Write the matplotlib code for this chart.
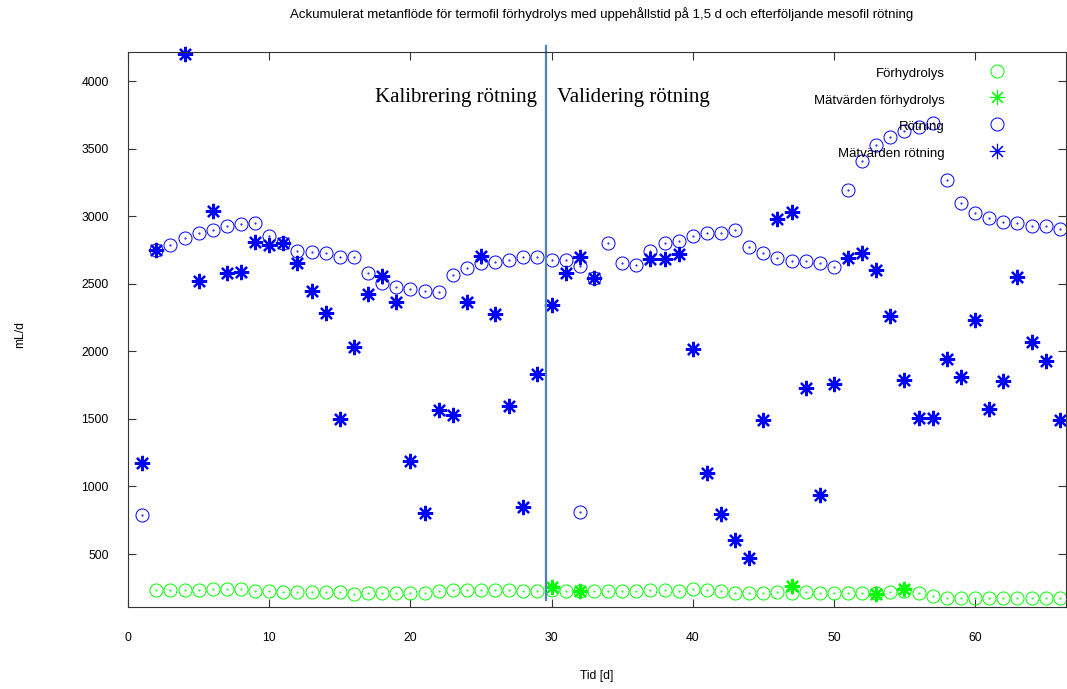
import matplotlib
matplotlib.use("Agg")
import matplotlib.pyplot as plt

plt.rcParams['font.family'] = ['Liberation Sans', 'DejaVu Sans']

# Förhydrolys, modell (dag 2-66)
dag_forhydrolys = list(range(2, 67))
forhydrolys = [234, 234, 234, 234, 239, 239, 239, 227, 227, 219, 219, 219, 222, 222,
               205, 210, 214, 210, 210, 214, 229, 234, 234, 234, 234, 234, 229, 229,
               234, 229, 229, 229, 229, 229, 229, 234, 234, 229, 239, 234, 227, 214,
               214, 214, 217, 214, 217, 214, 214, 210, 214, 214, 217, 229, 214, 190,
               177, 177, 177, 177, 173, 173, 173, 173, 173]

# Mätvärden förhydrolys
dag_mat_forhydrolys = [30, 32, 47, 53, 55]
mat_forhydrolys = [254, 227, 264, 202, 239]

# Rötning, modell
dag_rotning = [1, 2, 3, 4, 5, 6, 7, 8, 9, 10, 11, 12, 13, 14, 15, 16, 17, 18, 19, 20,
               21, 22, 23, 24, 25, 26, 27, 28, 29, 30, 31, 32, 32, 33, 34, 35, 36, 37,
               38, 39, 40, 41, 42, 43, 44, 45, 46, 47, 48, 49, 50, 51, 52, 53, 54, 55,
               56, 57, 58, 59, 60, 61, 62, 63, 64, 65, 66]
rotning = [788, 2750, 2789, 2839, 2876, 2900, 2930, 2939, 2947, 2856, 2804, 2745, 2738,
           2728, 2701, 2701, 2578, 2504, 2479, 2462, 2445, 2437, 2566, 2614, 2651, 2664,
           2679, 2696, 2701, 2679, 2679, 2634, 810, 2544, 2802, 2651, 2642, 2740, 2802,
           2819, 2851, 2876, 2876, 2898, 2775, 2728, 2691, 2671, 2666, 2651, 2622, 3193,
           3410, 3528, 3589, 3631, 3656, 3688, 3270, 3100, 3024, 2984, 2959, 2950, 2925,
           2925, 2905]

# Mätvärden rötning
dag_mat_rotning = [1, 2, 4, 5, 6, 7, 8, 9, 10, 11, 12, 13, 14, 15, 16, 17, 18, 19, 20,
                   21, 22, 23, 24, 25, 26, 27, 28, 29, 30, 31, 32, 33, 37, 38, 39, 40,
                   41, 42, 43, 44, 45, 46, 47, 48, 49, 50, 51, 52, 53, 54, 55, 56, 57,
                   58, 59, 60, 61, 62, 63, 64, 65, 66]
mat_rotning = [1170, 2750, 4198, 2518, 3035, 2578, 2585, 2812, 2787, 2802, 2651, 2445,
               2280, 1502, 2031, 2425, 2555, 2363, 1185, 800, 1564, 1532, 2363, 2708,
               2278, 1595, 849, 1835, 2339, 2578, 2701, 2544, 2684, 2684, 2721, 2019,
               1096, 795, 603, 468, 1495, 2979, 3033, 1728, 936, 1756, 2691, 2728, 2603,
               2262, 1790, 1510, 1510, 1945, 1809, 2228, 1571, 1778, 2548, 2068, 1925,
               1495]

grans_dag = 29.6

gron = '#00ff00'
bla = '#0000ff'
stjarna = (8, 2, 0)

fig = plt.figure(figsize=(10.67, 6.89), dpi=100)
ax = fig.add_axes([0.12, 0.119, 0.8788, 0.8056])

ax.plot(dag_forhydrolys, forhydrolys, 'o', mfc='none', mec=gron, ms=9.4, mew=0.7, clip_on=False)
ax.plot(dag_forhydrolys, forhydrolys, '.', color=gron, ms=1, clip_on=False)
ax.plot(dag_rotning, rotning, 'o', mfc='none', mec=bla, ms=9.4, mew=0.7, clip_on=False)
ax.plot(dag_rotning, rotning, '.', color=bla, ms=1, clip_on=False)
ax.plot(dag_mat_forhydrolys, mat_forhydrolys, marker=stjarna, ls='none', color=gron,
        ms=11, mew=1.6, clip_on=False)
ax.plot(dag_mat_rotning, mat_rotning, marker=stjarna, ls='none', color=bla,
        ms=11, mew=1.6, clip_on=False)

ax.plot([grans_dag, grans_dag], [160, 4262], color='#4f81bd', lw=1.6, clip_on=False)

ax.text(23.2, 3880, 'Kalibrering rötning', family='Liberation Serif', fontsize=15,
        ha='center', va='center')
ax.text(35.8, 3880, 'Validering rötning', family='Liberation Serif', fontsize=15,
        ha='center', va='center')

ax.set_xlim(0, 66.42)
ax.set_ylim(108, 4215)
ax.set_xticks(range(0, 61, 10))
ax.set_yticks(range(500, 4001, 500))
ax.tick_params(direction='in', top=True, right=True, length=6, width=0.8,
               color='#333333', labelsize=8.7)
ax.tick_params(axis='x', pad=18)
ax.tick_params(axis='y', pad=14)
for s in ax.spines.values():
    s.set_color('#333333')
    s.set_linewidth(0.8)

fig.text(0.5637, 0.9797, 'Ackumulerat metanflöde för termofil förhydrolys med uppehållstid '
         'på 1,5 d och efterföljande mesofil rötning', ha='center', va='center', fontsize=9.5)
fig.text(0.019, 0.514, 'mL/d', rotation=90, ha='center', va='center', fontsize=8.7)
fig.text(0.5595, 0.019, 'Tid [d]', ha='center', va='center', fontsize=8.7)

# legend
namn = ['Förhydrolys', 'Mätvärden förhydrolys', 'Rötning', 'Mätvärden rötning']
for i, txt in enumerate(namn):
    yy = 0.9604 - i * 0.0481
    ax.text(0.8713, yy, txt, transform=ax.transAxes, ha='right', va='center', fontsize=9.5)
    if i % 2 == 0:
        ax.plot([0.9265], [yy + 0.006], 'o', mfc='none', mec=gron if i == 0 else bla, ms=9.4,
                mew=0.7, transform=ax.transAxes, clip_on=False)
    else:
        ax.plot([0.9265], [yy + 0.006], marker=stjarna, ls='none', color=gron if i == 1 else bla,
                ms=11, mew=0.8, transform=ax.transAxes, clip_on=False)

fig.savefig('out.png', dpi=100)
